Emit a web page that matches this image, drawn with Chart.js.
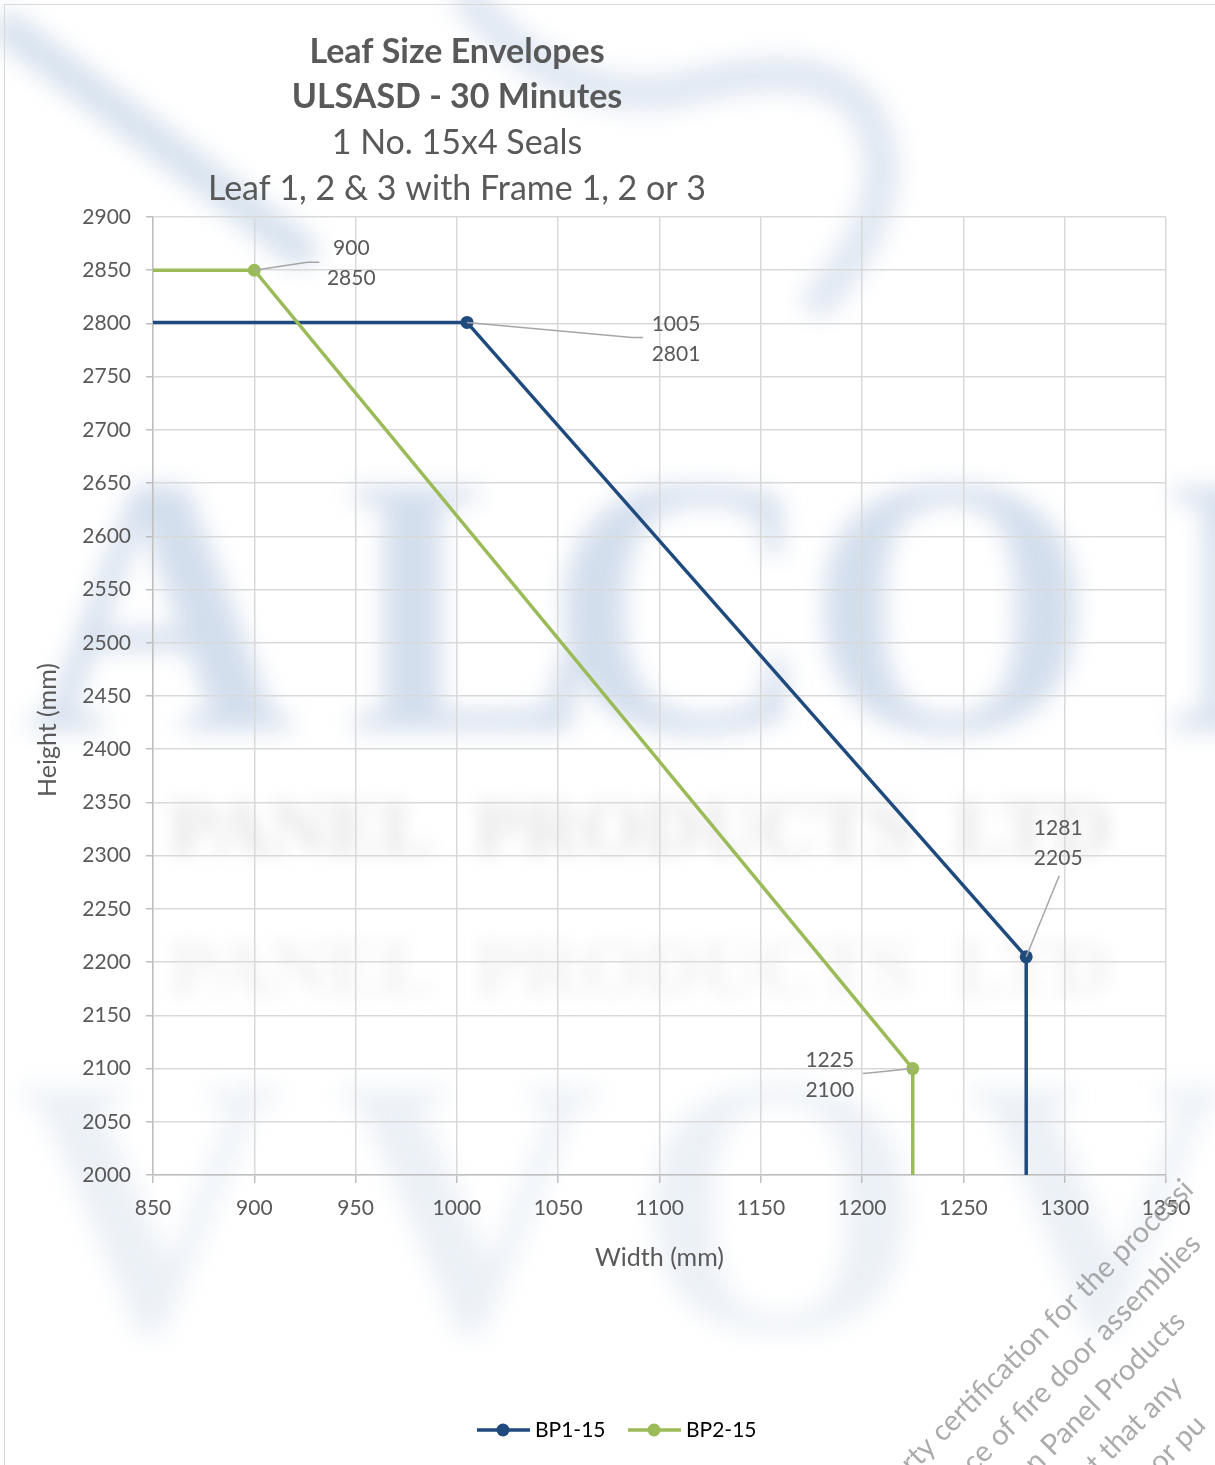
<!DOCTYPE html>
<html>
<head>
<meta charset="utf-8">
<title>Leaf Size Envelopes</title>
<script src="https://cdn.jsdelivr.net/npm/chart.js@4.4.1/dist/chart.umd.min.js"></script>
<style>
  html, body { margin: 0; padding: 0; background: #fff; }
  #wrap { position: relative; width: 1215px; height: 1465px; }
</style>
</head>
<body>
<div id="wrap"><canvas id="envelope-chart" width="1215" height="1465"></canvas></div>
<script>
// Envelope data (width / height in mm)
const seriesNames = ['BP1-15', 'BP2-15'];
const bp1Width  = [850, 1005, 1281, 1281];
const bp1Height = [2801, 2801, 2205, 2000];
const bp2Width  = [850, 900, 1225, 1225];
const bp2Height = [2850, 2850, 2100, 2000];
// points that get a marker and a value label
const bp1Marked = [false, true, true, false];
const bp2Marked = [false, true, true, false];

const xTicks = [850, 900, 950, 1000, 1050, 1100, 1150, 1200, 1250, 1300, 1350];
const yTicks = [2000, 2050, 2100, 2150, 2200, 2250, 2300, 2350, 2400, 2450,
                2500, 2550, 2600, 2650, 2700, 2750, 2800, 2850, 2900];

const titleBold = ['Leaf Size Envelopes', 'ULSASD - 30 Minutes'];
const titlePlain = ['1 No. 15x4 Seals', 'Leaf 1, 2 & 3 with Frame 1, 2 or 3'];
const xTitle = 'Width (mm)';
const yTitle = 'Height (mm)';

const FONT = 'Lato, "Noto Sans", sans-serif';
const TEXT_GREY = '#595959';
const BLUE = '#1f4a7e';
const GREEN = '#9bbb59';

// label placement relative to each marked point (pixels)
const labelPlacement = {
  '0-1': { dx: 209, dy: 17, leader: [[165, 15], [176, 15]] },
  '0-2': { dx: 32, dy: -114, leader: [[33, -81]] },
  '1-1': { dx: 97, dy: -7, leader: [[53, -8], [65, -8]] },
  '1-2': { dx: -83, dy: 7, leader: [[-39, 4], [-50, 5]] }
};

const toPoints = (xs, ys) => xs.map((x, i) => ({ x: x, y: ys[i] }));

const decorPlugin = {
  id: 'decor',
  beforeDraw(chart) {
    const ctx = chart.ctx;
    ctx.save();
    ctx.fillStyle = '#fff';
    ctx.fillRect(0, 0, chart.width, chart.height);

    // faint blurred logo watermark
    ctx.filter = 'blur(12px)';
    ctx.strokeStyle = 'rgba(120,155,200,0.30)';
    ctx.lineWidth = 34;
    ctx.lineCap = 'round';
    ctx.beginPath();
    ctx.moveTo(10, 30);
    ctx.quadraticCurveTo(170, 150, 300, 250);
    ctx.stroke();
    ctx.strokeStyle = 'rgba(120,155,200,0.24)';
    ctx.beginPath();
    ctx.moveTo(470, 0);
    ctx.quadraticCurveTo(560, 110, 680, 90);
    ctx.quadraticCurveTo(860, 40, 880, 150);
    ctx.quadraticCurveTo(890, 220, 820, 300);
    ctx.stroke();

    ctx.fillStyle = 'rgba(120,155,200,0.33)';
    ctx.font = 'bold 370px "Liberation Serif", serif';
    ctx.textAlign = 'center';
    ctx.textBaseline = 'alphabetic';
    [['A', 160], ['L', 470], ['C', 680], ['O', 950], ['N', 1300]].forEach(([ch, x]) => {
      ctx.fillText(ch, x, 730);
    });
    ctx.fillStyle = 'rgba(120,155,200,0.14)';
    [['V', 150], ['V', 470], ['O', 780], ['V', 1100]].forEach(([ch, x]) => {
      ctx.fillText(ch, x, 1330);
    });

    ctx.filter = 'blur(9px)';
    ctx.fillStyle = 'rgba(150,150,150,0.24)';
    ctx.font = 'bold 80px "Liberation Serif", serif';
    ctx.fillText('PANEL  PRODUCTS  LTD', 640, 855);
    ctx.fillStyle = 'rgba(150,150,150,0.13)';
    ctx.fillText('PANEL  PRODUCTS  LTD', 640, 995);
    ctx.restore();

    // outer frame
    ctx.save();
    ctx.strokeStyle = '#d9d9d9';
    ctx.lineWidth = 1;
    ctx.strokeRect(4.5, 4.5, chart.width + 10, chart.height + 10);
    ctx.restore();
  },
  afterDatasetsDraw(chart) {
    const ctx = chart.ctx;
    ctx.save();
    ctx.font = '21px ' + FONT;
    ctx.fillStyle = TEXT_GREY;
    ctx.textAlign = 'center';
    ctx.textBaseline = 'middle';
    chart.data.datasets.forEach((ds, di) => {
      const meta = chart.getDatasetMeta(di);
      ds.data.forEach((pt, i) => {
        const place = labelPlacement[di + '-' + i];
        if (!place) return;
        const el = meta.data[i];
        ctx.strokeStyle = '#a6a6a6';
        ctx.lineWidth = 1.5;
        ctx.beginPath();
        ctx.moveTo(el.x, el.y);
        place.leader.forEach(([lx, ly]) => ctx.lineTo(el.x + lx, el.y + ly));
        ctx.stroke();
        const cx = el.x + place.dx, cy = el.y + place.dy;
        ctx.fillText(String(pt.x), cx, cy - 15);
        ctx.fillText(String(pt.y), cx, cy + 15);
      });
    });
    ctx.restore();
  },
  afterDraw(chart) {
    const ctx = chart.ctx;
    ctx.save();
    // titles
    ctx.fillStyle = TEXT_GREY;
    ctx.textAlign = 'center';
    ctx.textBaseline = 'middle';
    ctx.font = 'bold 34px ' + FONT;
    titleBold.forEach((t, i) => ctx.fillText(t, 457, 52 + i * 45.5));
    ctx.font = '34px ' + FONT;
    titlePlain.forEach((t, i) => ctx.fillText(t, 457, 143 + i * 46));

    // y axis title
    ctx.save();
    ctx.translate(48, 730);
    ctx.rotate(-Math.PI / 2);
    ctx.font = '25px ' + FONT;
    ctx.fillText(yTitle, 0, 0);
    ctx.restore();

    // legend
    ctx.font = '21px ' + FONT;
    ctx.textAlign = 'left';
    const legendY = 1430;
    [[477, BLUE], [628, GREEN]].forEach(([x0, col], i) => {
      ctx.strokeStyle = col;
      ctx.lineWidth = 3.5;
      ctx.beginPath();
      ctx.moveTo(x0, legendY);
      ctx.lineTo(x0 + 53, legendY);
      ctx.stroke();
      ctx.fillStyle = col;
      ctx.beginPath();
      ctx.arc(x0 + 26, legendY, 6.5, 0, Math.PI * 2);
      ctx.fill();
      ctx.fillStyle = '#000';
      ctx.fillText(seriesNames[i], x0 + 58, legendY);
    });

    // diagonal disclaimer watermark
    ctx.fillStyle = 'rgba(150,150,150,0.8)';
    ctx.font = '29px ' + FONT;
    ctx.textBaseline = 'alphabetic';
    const diag = ['rty certification for the processi',
                  'ce of fire door assemblies',
                  'n Panel Products',
                  't that any',
                  'or pu'];
    diag.forEach((t, k) => {
      ctx.save();
      ctx.translate(912 + k * 62, 1474);
      ctx.rotate(-Math.PI / 4);
      ctx.fillText(t, 0, 0);
      ctx.restore();
    });
    ctx.restore();
  }
};

const axisTickColor = '#bfbfbf';
const plainNumber = v => String(v);

new Chart(document.getElementById('envelope-chart'), {
  type: 'scatter',
  data: {
    datasets: [
      {
        label: seriesNames[0],
        data: toPoints(bp1Width, bp1Height),
        showLine: true,
        borderColor: BLUE,
        backgroundColor: BLUE,
        borderWidth: 3.5,
        pointRadius: bp1Marked.map(m => (m ? 6.5 : 0)),
        pointBorderWidth: 0,
        tension: 0,
        order: 1
      },
      {
        label: seriesNames[1],
        data: toPoints(bp2Width, bp2Height),
        showLine: true,
        borderColor: GREEN,
        backgroundColor: GREEN,
        borderWidth: 3.5,
        pointRadius: bp2Marked.map(m => (m ? 6.5 : 0)),
        pointBorderWidth: 0,
        tension: 0,
        order: 0
      }
    ]
  },
  options: {
    responsive: false,
    animation: false,
    devicePixelRatio: 1,
    layout: { padding: { top: 217, right: 49, bottom: 192, left: 0 } },
    plugins: {
      legend: { display: false },
      title: { display: false },
      tooltip: { enabled: false }
    },
    scales: {
      x: {
        type: 'linear',
        min: 850,
        max: 1350,
        afterBuildTicks: scale => { scale.ticks = xTicks.map(v => ({ value: v })); },
        afterFit: scale => {
          scale.height = 98;
          scale.paddingLeft = 0;
          scale.paddingRight = 0;
        },
        grid: { color: '#d9d9d9', lineWidth: 1.5, tickLength: 8, tickColor: axisTickColor },
        border: { color: axisTickColor, width: 1.5 },
        ticks: { color: TEXT_GREY, font: { family: FONT, size: 21 }, padding: 13, maxRotation: 0, callback: plainNumber },
        title: { display: true, text: xTitle, color: TEXT_GREY, font: { family: FONT, size: 25 }, padding: { top: 0, bottom: 0 } }
      },
      y: {
        type: 'linear',
        min: 2000,
        max: 2900,
        afterBuildTicks: scale => { scale.ticks = yTicks.map(v => ({ value: v })); },
        afterFit: scale => {
          scale.width = 153;
          scale.paddingTop = 0;
          scale.paddingBottom = 0;
        },
        grid: { color: '#d9d9d9', lineWidth: 1.5, tickLength: 7, tickColor: axisTickColor },
        border: { color: axisTickColor, width: 1.5 },
        ticks: { color: TEXT_GREY, font: { family: FONT, size: 21 }, padding: 15, callback: plainNumber }
      }
    }
  },
  plugins: [decorPlugin]
});
</script>
</body>
</html>
